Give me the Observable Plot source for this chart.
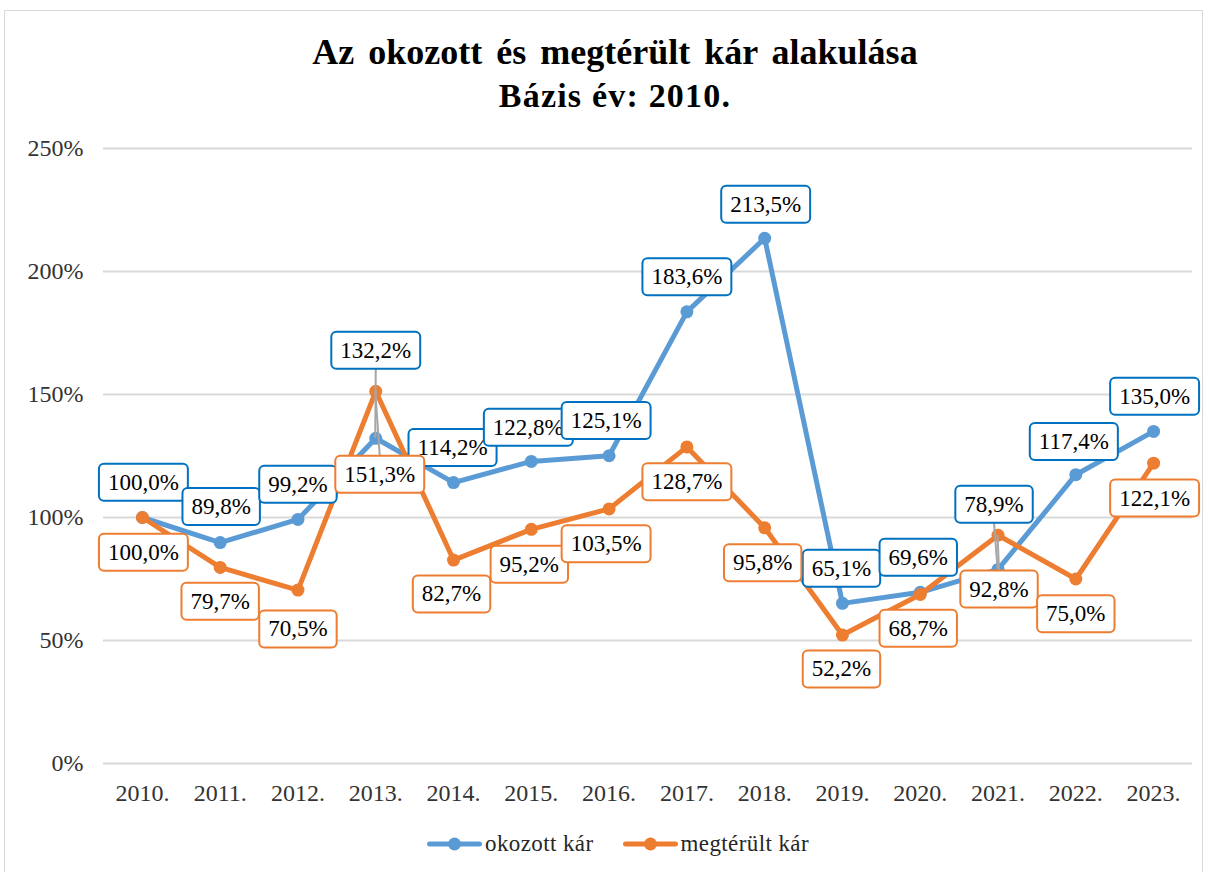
<!DOCTYPE html>
<html><head><meta charset="utf-8">
<script src="https://cdn.jsdelivr.net/npm/d3@7"></script>
<script src="https://cdn.jsdelivr.net/npm/@observablehq/plot@0.6"></script>
<style>
body{margin:0;background:#fff;font-family:"Liberation Serif","Times New Roman",serif;}
#frame{position:absolute;left:4px;top:10px;width:1199px;height:880px;border:1px solid #d9d9d9;box-sizing:border-box;}
.title{position:absolute;left:0;width:1230px;text-align:center;font-weight:bold;color:#000;white-space:nowrap;}
#t1{top:30px;font-size:36px;line-height:44px;word-spacing:5px;}
#t2{top:76px;font-size:34px;line-height:40px;letter-spacing:1.2px;}
#chart{position:absolute;left:0;top:120px;}
#legend{position:absolute;top:830px;left:427px;display:flex;align-items:center;font-size:23px;line-height:28px;color:#262626;letter-spacing:0.4px;}
#legend .item{display:flex;align-items:center;}
#legend svg{display:block;}
</style></head>
<body>
<div id="frame"></div>
<div class="title" id="t1">Az okozott és megtérült kár alakulása</div>
<div class="title" id="t2">Bázis év: 2010.</div>
<div id="chart"></div>
<div id="legend"></div>
<script>
const years = ["2010.","2011.","2012.","2013.","2014.","2015.","2016.","2017.","2018.","2019.","2020.","2021.","2022.","2023."];
const okozott = [100.0, 89.8, 99.2, 132.2, 114.2, 122.8, 125.1, 183.6, 213.5, 65.1, 69.6, 78.9, 117.4, 135.0];
const megterult = [100.0, 79.7, 70.5, 151.3, 82.7, 95.2, 103.5, 128.7, 95.8, 52.2, 68.7, 92.8, 75.0, 122.1];
const yTicks = [0, 50, 100, 150, 200, 250];
const seriesNames = ["okozott kár", "megtérült kár"];
// label placement (pixel offsets from the point to the label centre)
const okozottLabelOffsets = [[1,-35],[1,-36],[0,-35],[0,-88],[-1,-35],[-3,-34],[-3,-35],[0,-35],[1,-34],[-1,-35],[-2,-35],[-4,-65],[-2,-33],[1,-35]];
const megterultLabelOffsets = [[1,35],[0,34],[0,39],[4,83],[-2,34],[-2,35],[-3,35],[0,35],[-2,35],[-1,34],[-2,34],[1,54],[0,35],[1,35]];

const BLUE = "#5B9BD5", ORANGE = "#ED7D31", BLUE_BOX = "#0070C0", ORANGE_BOX = "#ED7D31";
const FONT = "'Liberation Serif','Times New Roman',serif";
const fmt = v => v.toFixed(1).replace(".", ",") + "%";
const idx = d3.range(years.length);

function labelMarks(values, offsets) {
  return idx.map(i => Plot.text([i], {
    x: d => years[d], y: d => values[d], text: d => fmt(values[d]),
    dx: offsets[i][0], dy: offsets[i][1], fill: "#000", fontSize: 23, fontFamily: FONT
  }));
}

const plot = Plot.plot({
  width: 1208, height: 700,
  marginTop: 28, marginBottom: 57, marginLeft: 103, marginRight: 16,
  style: {fontFamily: FONT, fontSize: "24px", color: "#333", background: "transparent", overflow: "visible"},
  x: {type: "band", domain: years, padding: 0, round: false, label: null, tickSize: 0, tickPadding: 20},
  y: {domain: [0, 250], ticks: yTicks, tickFormat: d => d + "%", label: null, tickSize: 0, tickPadding: 20},
  marks: [
    Plot.ruleY(yTicks, {stroke: "#d9d9d9", strokeWidth: 2}),
    Plot.line(idx, {x: i => years[i], y: i => okozott[i], stroke: BLUE, strokeWidth: 5}),
    Plot.dot(idx, {x: i => years[i], y: i => okozott[i], r: 6.5, fill: BLUE}),
    Plot.line(idx, {x: i => years[i], y: i => megterult[i], stroke: ORANGE, strokeWidth: 5}),
    Plot.dot(idx, {x: i => years[i], y: i => megterult[i], r: 6.5, fill: ORANGE}),
    ...labelMarks(okozott, okozottLabelOffsets),
    ...labelMarks(megterult, megterultLabelOffsets)
  ]
});
document.getElementById("chart").append(plot);

const svg = plot.tagName.toLowerCase() === "svg" ? plot : plot.querySelector("svg");
const NS = "http://www.w3.org/2000/svg";
const sx = plot.scale("x"), sy = plot.scale("y");
const bw = sx.bandwidth || 0;

// the label marks are the last 28 groups of the svg, each holding one text
const groups = Array.from(svg.children).filter(g => g.tagName.toLowerCase() === "g");
const labelGroups = groups.slice(groups.length - 2 * years.length);
const blueGroups = labelGroups.slice(0, years.length);
const orangeGroups = labelGroups.slice(years.length);

function addBoxes(gs, color) {
  return gs.map(g => {
    const t = g.querySelector("text");
    const b = t.getBBox();
    const padX = 9, padY = 6;
    const r = document.createElementNS(NS, "rect");
    const x = b.x - padX, y = b.y - padY, w = b.width + 2 * padX, h = b.height + 2 * padY;
    r.setAttribute("x", x); r.setAttribute("y", y);
    r.setAttribute("width", w); r.setAttribute("height", h);
    r.setAttribute("rx", 5);
    r.setAttribute("fill", "#fff"); r.setAttribute("stroke", color); r.setAttribute("stroke-width", 2);
    if (t.getAttribute("transform")) r.setAttribute("transform", t.getAttribute("transform"));
    t.parentNode.insertBefore(r, t);
    const m = r.getCTM();
    return {x: x + m.e, y: y + m.f, w, h};
  });
}
const blueBoxes = addBoxes(blueGroups, BLUE_BOX);
const orangeBoxes = addBoxes(orangeGroups, ORANGE_BOX);

// leader lines for labels moved far from their points
const leaders = document.createElementNS(NS, "g");
function addLeaders(values, offsets, boxes) {
  idx.forEach(i => {
    if (Math.abs(offsets[i][1]) < 45) return;
    const px = sx.apply(years[i]) + bw / 2, py = sy.apply(values[i]);
    const b = boxes[i];
    const ey = offsets[i][1] < 0 ? b.y + b.h : b.y;
    const l = document.createElementNS(NS, "line");
    l.setAttribute("x1", px); l.setAttribute("y1", py);
    l.setAttribute("x2", b.x + b.w / 2); l.setAttribute("y2", ey);
    l.setAttribute("stroke", "#A6A6A6"); l.setAttribute("stroke-width", 2);
    leaders.append(l);
  });
}
addLeaders(okozott, okozottLabelOffsets, blueBoxes);
addLeaders(megterult, megterultLabelOffsets, orangeBoxes);
svg.insertBefore(leaders, labelGroups[0]);

// legend
const legend = document.getElementById("legend");
[[seriesNames[0], BLUE, 0], [seriesNames[1], ORANGE, 29]].forEach(([name, color, gap]) => {
  const item = document.createElement("div");
  item.className = "item";
  item.style.marginLeft = gap + "px";
  item.innerHTML = `<svg width="55" height="16"><line x1="2.5" x2="52.5" y1="8" y2="8" stroke="${color}" stroke-width="5" stroke-linecap="round"/><circle cx="27.5" cy="8" r="6.5" fill="${color}"/></svg><span style="margin-left:3px">${name}</span>`;
  legend.append(item);
});
</script>
</body></html>
